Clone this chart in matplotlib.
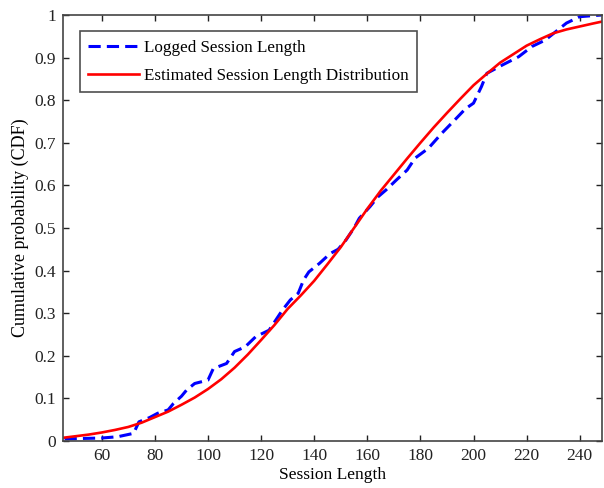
import matplotlib
matplotlib.use("Agg")
import matplotlib.pyplot as plt

logged_x = [46, 60, 66, 72, 74, 78, 81, 85, 87, 90, 92, 95, 100, 102, 107, 110, 114, 118,
            123, 128, 131, 134, 136, 138, 142, 146, 149, 152, 155, 157, 161, 164, 167, 171,
            175, 178, 183, 188, 193, 197, 200, 203, 205, 211, 217, 222, 227, 231, 235, 240, 248]
logged_y = [0.005, 0.007, 0.01, 0.018, 0.045, 0.055, 0.065, 0.073, 0.088, 0.105, 0.12, 0.135,
            0.143, 0.17, 0.182, 0.21, 0.221, 0.245, 0.26, 0.307, 0.331, 0.347, 0.378, 0.397,
            0.417, 0.44, 0.45, 0.472, 0.50, 0.523, 0.55, 0.573, 0.589, 0.613, 0.636, 0.664,
            0.687, 0.722, 0.754, 0.78, 0.793, 0.832, 0.863, 0.883, 0.902, 0.926, 0.941, 0.961,
            0.981, 0.996, 1.0]

# Estimated distribution CDF
est_x = [46, 55, 60, 65, 70, 75, 80, 85, 90, 95, 100, 105, 110, 115, 120, 125, 130, 135,
         140, 145, 150, 155, 160, 165, 170, 175, 180, 185, 190, 195, 200, 205, 210, 215,
         220, 225, 230, 235, 240, 245, 248]
est_y = [0.008, 0.015, 0.02, 0.026, 0.033, 0.043, 0.056, 0.069, 0.085, 0.102, 0.122, 0.145,
         0.172, 0.203, 0.237, 0.272, 0.31, 0.342, 0.376, 0.415, 0.455, 0.50, 0.545, 0.587,
         0.625, 0.663, 0.70, 0.736, 0.77, 0.803, 0.835, 0.862, 0.888, 0.908, 0.928, 0.943,
         0.957, 0.966, 0.973, 0.98, 0.984]

x_ticks = [60, 80, 100, 120, 140, 160, 180, 200, 220, 240]
y_ticks = [0, 0.1, 0.2, 0.3, 0.4, 0.5, 0.6, 0.7, 0.8, 0.9, 1]
y_labels = ["0", "0.1", "0.2", "0.3", "0.4", "0.5", "0.6", "0.7", "0.8", "0.9", "1"]

plt.rcParams['font.family'] = ['Liberation Serif', 'DejaVu Serif']

fig = plt.figure(figsize=(6.04, 4.88), dpi=100)
ax = fig.add_axes([0.1043, 0.0963, 0.892, 0.873])

ax.plot(logged_x, logged_y, color='#0000ff', lw=2.2, linestyle=(0, (4, 2)),
        label='Logged Session Length')
ax.plot(est_x, est_y, color='#ff0000', lw=1.9, label='Estimated Session Length Distribution')

ax.set_xlim(45.4, 248.3)
ax.set_ylim(0, 1)
ax.set_xticks(x_ticks)
ax.set_yticks(y_ticks)
ax.set_yticklabels(y_labels)
ax.tick_params(direction='in', top=True, right=True, length=4, width=1,
               labelsize=12.5, colors='#222222', pad=5)
for s in ax.spines.values():
    s.set_color('#444444')
    s.set_linewidth(1.2)

ax.set_xlabel('Session Length', fontsize=12.5, labelpad=2)
ax.set_ylabel('Cumulative probability (CDF)', fontsize=13, labelpad=4)

leg = ax.legend(loc='upper left', bbox_to_anchor=(0.031, 0.962), fontsize=12.3,
                frameon=True, fancybox=False, edgecolor='#222222', handlelength=3.0,
                borderpad=0.5, labelspacing=0.7, handletextpad=0.25, borderaxespad=0)
leg.get_frame().set_linewidth(1.2)

fig.savefig('out.png', dpi=100)
